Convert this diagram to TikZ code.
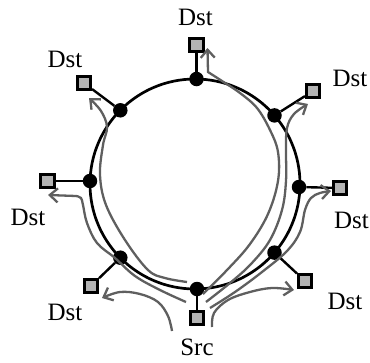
\documentclass[tikz,border=0pt]{standalone}
\usepackage{fontspec}
\setmainfont{Liberation Serif}
\usetikzlibrary{arrows.meta}
\definecolor{routegray}{RGB}{95,95,95}
\definecolor{hostfill}{RGB}{180,180,180}
\begin{document}
\begin{tikzpicture}[x=1pt,y=-1pt,
  ring/.style={line width=2.7pt},
  hub/.style={circle,fill=black,inner sep=0pt,minimum size=14.5pt},
  host/.style={rectangle,draw=black,fill=hostfill,line width=2.6pt,inner sep=0pt,minimum size=13.5pt},
  link/.style={line width=2.4pt},
  route/.style={draw=routegray,line width=2.3pt,-{Straight Barb[length=8pt,width=14pt]}},
  lab/.style={font=\fontsize{25}{30}\selectfont,inner sep=0pt}]
\useasboundingbox (0,0) rectangle (370,362);
\coordinate (c) at (195,184);
\draw[ring] (c) circle[radius=105];
% hubs on the ring
\node[hub] (nT)  at (196.5,79) {};
\node[hub] (nUR) at (274.5,115.4) {};
\node[hub] (nR)  at (299,187) {};
\node[hub] (nLR) at (274.5,252.6) {};
\node[hub] (nB)  at (197,289) {};
\node[hub] (nLL) at (120.3,257.7) {};
\node[hub] (nL)  at (90,181) {};
\node[hub] (nUL) at (120.3,110.3) {};
% hosts
\node[host] (sT)  at (196.5,45) {};
\node[host] (sUR) at (313,91) {};
\node[host] (sR)  at (340,188) {};
\node[host] (sLR) at (305,281) {};
\node[host] (sB)  at (197,318) {};
\node[host] (sLL) at (91,286) {};
\node[host] (sL)  at (47.5,181) {};
\node[host] (sUL) at (84,83) {};
\foreach \a in {T,UR,R,LR,B,LL,L,UL}{\draw[link] (n\a) -- (s\a);}
% labels
\node[lab] (lT)  at (195.5,17) {Dst};
\node[lab] (lUL) at (65,59) {Dst};
\node[lab] (lUR) at (350,78) {Dst};
\node[lab] (lL)  at (28,217) {Dst};
\node[lab] (lR)  at (351.5,220) {Dst};
\node[lab] (lLL) at (65,312) {Dst};
\node[lab] (lLR) at (345,301) {Dst};
\node[lab] (lS)  at (197,347) {Src};
% routes
\draw[route] plot[smooth,tension=0.6] coordinates {(203,294) (228,269) (250,244) (268,214) (278,181) (278,152) (270,130) (257,108) (240,93) (222,81) (208,72)} -- (207.5,48);
\draw[route] plot[smooth,tension=0.6] coordinates {(206,302) (230,283) (251,264) (270,240) (282,210) (286,181) (286,150) (287,128) (294,114) (308,104)};
\draw[route] plot[smooth,tension=0.6] coordinates {(210,308) (235,292) (262,272) (287,251) (300,232) (305,210) (311,198) (320,193) (331,191)};
\draw[route] plot[smooth,tension=0.6] coordinates {(212,327) (214,313) (228,300) (250,292) (272,288) (294,290)};
\draw[route] plot[smooth,tension=0.6] coordinates {(187,282) (165,278) (148,270) (125,240) (106,205) (100,175) (103,145) (107,127) (101,111) (89,98)};
\draw[route] plot[smooth,tension=0.6] coordinates {(186,302) (160,290) (135,276) (115,258) (97,243) (87,223) (83,205) (81,198) (76,196)} -- (48,195);
\draw[route] plot[smooth,tension=0.6] coordinates {(172,331) (168,316) (158,302) (140,294) (120,292) (102,298)};
\end{tikzpicture}
\end{document}
